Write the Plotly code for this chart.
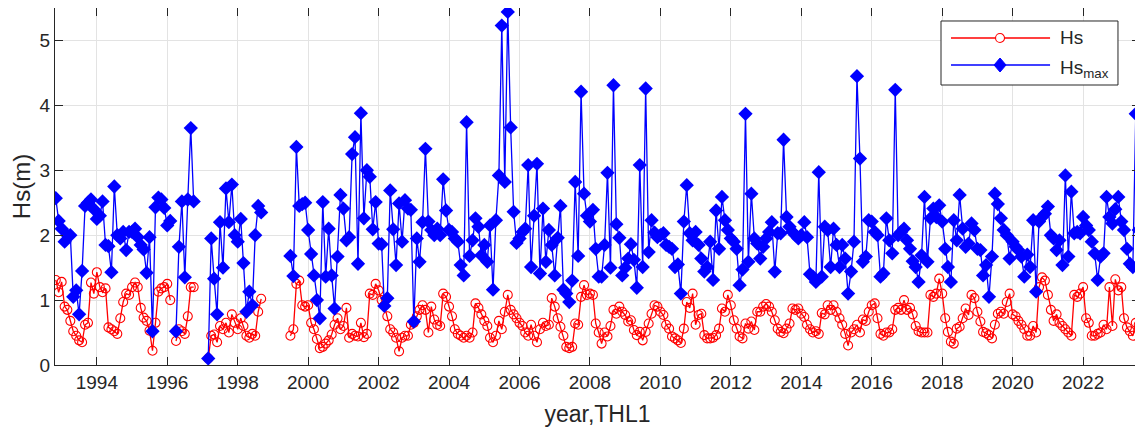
import pandas as pd
import plotly.graph_objects as go

# monthly values starting Nov 1992 (None = no data)
start_month = "1992-11-01"

hs = [
    1.31, 1.12, 1.28, 0.9, 0.85, 0.68, 0.52, 0.45, 0.38, 0.35,
    0.62, 0.65, 1.27, 1.1, 1.43, 1.2, 1.12, 1.18, 0.58, 0.55,
    0.52, 0.48, 0.72, 0.97, 1.1, 1.08, 1.2, 1.27, 1.2, 0.88,
    0.73, 0.68, 0.53, 0.22, 0.65, 1.13, 1.18, 1.2, 1.25, 1.0,
    None, 0.37, 0.55, 0.52, 0.48, 0.75, 1.2, 1.2, None, None,
    None, None, 0.1, 0.45, 0.47, 0.35, 0.6, 0.55, 0.65, 0.5,
    0.78, 0.65, 0.55, 0.72, 0.6, 0.45, 0.42, 0.48, 0.45, 0.82,
    1.02, None, None, None, None, None, None, None, None, None,
    0.45, 0.55, 1.25, 1.3, 0.92, 0.9, 0.92, 0.65, 0.55, 0.4,
    0.26, 0.28, 0.33, 0.38, 0.47, 0.62, 0.72, 0.55, 0.6, 0.88,
    0.42, 0.48, 0.45, 0.44, 0.65, 0.43, 0.48, 1.1, 1.08, 1.25,
    1.15, 1.0, 0.92, 0.75, 0.55, 0.5, 0.42, 0.21, 0.42, 0.45,
    0.45, 0.62, 0.65, 0.75, 0.85, 0.92, 0.85, 0.5, 0.9, 0.7,
    0.62, 0.6, 1.1, 1.05, 0.9, 0.75, 0.55, 0.48, 0.45, 0.42,
    0.45, 0.42, 0.5, 0.95, 0.88, 0.78, 0.68, 0.6, 0.42, 0.35,
    0.45, 0.68, 0.55, 0.82, 1.08, 0.85, 0.78, 0.72, 0.65, 0.6,
    0.5, 0.45, 0.62, 0.45, 0.35, 0.55, 0.65, 0.6, 0.62, 1.03,
    0.9, 0.72, 0.59, 0.45, 0.28, 0.26, 0.28, 0.64, 0.62, 1.05,
    1.23, 1.08, 1.10, 1.08, 0.64, 0.50, 0.33, 0.50, 0.44, 0.6,
    0.85, 0.79, 0.90, 0.82, 0.77, 0.67, 0.69, 0.54, 0.46, 0.51,
    0.38, 0.51, 0.64, 0.79, 0.92, 0.90, 0.82, 0.77, 0.62, 0.56,
    0.44, 0.41, 0.38, 0.34, 0.56, 0.97, 0.88, 1.1, 0.62, 0.77,
    0.79, 0.46, 0.41, 0.41, 0.42, 0.46, 0.56, 0.87, 0.82, 1.08,
    0.92, 0.69, 0.56, 0.44, 0.41, 0.64, 0.56, 0.67, 0.54, 0.82,
    0.82, 0.9, 0.94, 0.90, 0.82, 0.69, 0.56, 0.51, 0.49, 0.56,
    0.64, 0.87, 0.85, 0.87, 0.79, 0.74, 0.62, 0.55, 0.5, 0.52,
    0.48, 0.8, 0.78, 0.92, 0.85, 0.92, 0.82, 0.72, 0.62, 0.48,
    0.3, 0.5, 0.55, 0.62, 0.5, 0.7, 0.68, 0.82, 0.92, 0.95,
    0.72, 0.48, 0.45, 0.5, 0.5, 0.55, 0.85, 0.88, 0.85, 1.0,
    0.85, 0.88, 0.78, 0.6, 0.52, 0.5, 0.5, 0.5, 1.08, 1.05,
    1.10, 1.33, 1.10, 0.72, 0.51, 0.36, 0.33, 0.56, 0.59, 0.72,
    0.87, 0.77, 1.08, 1.03, 0.82, 0.67, 0.51, 0.49, 0.46, 0.41,
    0.62, 0.79, 0.82, 0.79, 0.97, 1.10, 0.78, 0.75, 0.68, 0.62,
    0.55, 0.45, 0.45, 0.6, 0.5, 1.2, 1.35, 1.3, 1.08, 0.85,
    0.68, 0.78, 0.65, 0.6, 0.55, 0.5, 0.45, 1.08, 1.05, 1.1,
    1.2, 0.72, 0.65, 0.45, 0.45, 0.48, 0.5, 0.62, 0.55, 1.2,
    0.6, 1.32, 1.15, 1.2, 0.72, 0.58, 0.52, 0.45, 0.65, 0.62,
]

hs_max = [
    2.57, 2.22, 2.1, 1.9, 2.0, 2.0, 1.05, 1.15, 0.78, 1.45,
    2.45, 2.5, 2.55, 2.4, 2.25, 2.3, 2.52, 1.85, 1.83, 1.43,
    2.75, 2.0, 1.95, 2.05, 1.77, 2.05, 2.05, 2.1, 1.97, 1.85,
    1.78, 1.42, 1.97, 0.52, 2.43, 2.58, 2.55, 2.42, 2.15, 2.22,
    None, 0.52, 1.82, 2.52, 1.35, 2.55, 3.65, 2.52, None, None,
    None, None, 0.1, 1.95, 1.33, 0.78, 2.2, 1.5, 2.72, 2.2,
    2.78, 2.0, 1.9, 2.25, 1.57, 0.82, 1.13, 0.92, 2.0, 2.45,
    2.35, None, None, None, None, None, None, None, None, None,
    1.68, 1.37, 3.36, 2.45, 2.48, 2.5, 2.08, 1.71, 1.38, 1.0,
    0.72, 2.51, 1.36, 2.10, 1.38, 0.87, 1.67, 2.62, 2.41, 1.92,
    1.97, 3.25, 3.51, 1.56, 3.88, 2.26, 3.0, 2.9, 2.09, 2.51,
    1.87, 1.86, 0.91, 1.03, 2.69, 2.09, 1.54, 2.49, 1.9, 2.54,
    2.41, 2.39, 0.67, 1.95, 1.59, 2.2, 3.33, 2.21, 2.08, 2.0,
    2.1, 2.0, 2.86, 2.38, 2.08, 2.05, 1.95, 1.9, 1.54, 1.38,
    3.74, 1.68, 1.92, 2.26, 2.13, 1.69, 1.85, 1.59, 2.15, 1.16,
    2.23, 2.92, 5.23, 2.82, 5.44, 3.66, 2.36, 1.88, 1.95, 2.05,
    2.1, 3.08, 1.51, 2.3, 3.1, 1.41, 2.41, 1.59, 2.08, 1.85,
    1.38, 1.96, 2.45, 1.16, 1.10, 0.97, 1.3, 2.82, 1.68, 4.21,
    2.64, 2.3, 2.21, 2.39, 1.79, 1.36, 1.36, 1.85, 2.96, 1.5,
    4.31, 2.17, 1.96, 1.38, 1.5, 1.64, 1.86, 1.62, 1.19, 3.08,
    1.51, 4.26, 1.74, 2.23, 2.04, 1.97, 2.0, 2.03, 1.85, 1.82,
    1.79, 1.51, 1.55, 1.10, 2.21, 2.77, 2.03, 1.92, 2.05, 1.85,
    1.64, 1.44, 1.51, 1.90, 1.31, 2.38, 1.79, 2.59, 2.23, 2.08,
    1.95, 1.90, 1.79, 1.23, 1.47, 3.87, 1.59, 2.64, 1.95, 1.87,
    1.64, 1.82, 1.95, 2.05, 2.2, 1.44, 2.03, 2.03, 3.47, 2.28,
    2.13, 2.05, 2.0, 1.95, 2.0, 2.2, 1.97, 1.4, 1.36, 1.28,
    2.97, 1.36, 2.13, 2.08, 1.51, 2.10, 1.85, 1.51, 1.85, 1.64,
    1.10, 1.44, 1.90, 4.45, 3.18, 1.59, 1.67, 2.23, 2.21, 2.05,
    2.0, 1.36, 1.41, 2.26, 1.92, 1.72, 4.24, 2.0, 2.05, 2.10,
    1.92, 1.79, 1.6, 1.51, 1.28, 1.69, 2.59, 1.59, 2.26, 2.41,
    2.28, 2.46, 2.21, 1.79, 1.51, 1.28, 2.23, 1.92, 2.62, 2.10,
    1.82, 1.87, 2.18, 2.08, 1.79, 1.77, 1.38, 1.54, 1.05, 1.67,
    2.64, 2.48, 2.26, 2.08, 2.0, 1.64, 1.9, 1.82, 1.77, 1.67,
    1.36, 1.7, 1.51, 2.23, 1.13, 2.21, 2.28, 2.33, 2.44, 2.0,
    1.95, 1.77, 1.92, 1.54, 2.92, 1.67, 2.67, 2.03, 2.05, 2.03,
    2.28, 2.15, 2.08, 1.9, 1.72, 1.31, 1.67, 1.72, 2.59, 2.28,
    2.18, 2.4, 2.59, 2.21, 2.08, 1.79, 1.56, 1.51, 3.87, 2.08,
]

months = pd.date_range(start_month, periods=len(hs), freq="MS")

font_family = "Arial, Liberation Sans, sans-serif"
axis_color = "#262626"
grid_color = "#e3e3e3"
red = "#ff0000"
blue = "#0000ff"

fig = go.Figure()

fig.add_trace(
    go.Scatter(
        x=months,
        y=hs,
        mode="lines+markers",
        name="Hs",
        line=dict(color=red, width=1.3),
        marker=dict(symbol="circle-open", size=9, color=red, line=dict(width=1.1)),
        connectgaps=False,
    )
)
fig.add_trace(
    go.Scatter(
        x=months,
        y=hs_max,
        mode="lines+markers",
        name="Hs<sub>max</sub>",
        line=dict(color=blue, width=1.3),
        marker=dict(symbol="diamond", size=11, color=blue),
        connectgaps=False,
    )
)

# the page body adds an 8px margin, so the figure is a bit smaller than the window
fig_w, fig_h = 1135, 424
mar = dict(l=47, r=3, t=0, b=67)
plot_w = fig_w - mar["l"] - mar["r"]
plot_h = fig_h - mar["t"] - mar["b"]

# MATLAB-style legend box (long sample lines), drawn in paper coords
box_x0, box_x1, box_y0, box_y1 = 0.8166, 0.9797, 0.7843, 0.9636
line_x0, line_x1, mark_x, text_x = 0.8258, 0.9171, 0.8710, 0.9244
row_y = [0.916, 0.8403]

shapes = [
    dict(type="rect", xref="paper", yref="paper", x0=box_x0, x1=box_x1,
         y0=box_y0, y1=box_y1, line=dict(color=axis_color, width=1), fillcolor="white"),
    dict(type="line", xref="paper", yref="paper", x0=line_x0, x1=line_x1,
         y0=row_y[0], y1=row_y[0], line=dict(color=red, width=1.3)),
    dict(type="line", xref="paper", yref="paper", x0=line_x0, x1=line_x1,
         y0=row_y[1], y1=row_y[1], line=dict(color=blue, width=1.3)),
]
cdx, cdy = 4.5 / plot_w, 4.5 / plot_h
shapes.append(
    dict(type="circle", xref="paper", yref="paper", x0=mark_x - cdx, x1=mark_x + cdx,
         y0=row_y[0] - cdy, y1=row_y[0] + cdy, line=dict(color=red, width=1.1),
         fillcolor="white")
)
ddx, ddy = 6 / plot_w, 7 / plot_h
yd = row_y[1]
shapes.append(
    dict(type="path", xref="paper", yref="paper",
         path=f"M {mark_x - ddx} {yd} L {mark_x} {yd + ddy} L {mark_x + ddx} {yd} L {mark_x} {yd - ddy} Z",
         line=dict(color=blue, width=1), fillcolor=blue)
)

annotations = [
    dict(text="Hs", xref="paper", yref="paper", x=text_x, y=row_y[0], xanchor="left",
         yanchor="middle", showarrow=False, font=dict(size=19, color=axis_color)),
    dict(text="Hs<sub>max</sub>", xref="paper", yref="paper", x=text_x, y=row_y[1] - 0.012,
         xanchor="left", yanchor="middle", showarrow=False, font=dict(size=19, color=axis_color)),
]

fig.update_layout(
    width=fig_w,
    height=fig_h,
    margin=mar,
    paper_bgcolor="white",
    plot_bgcolor="white",
    font=dict(family=font_family, color=axis_color, size=19),
    showlegend=False,
    shapes=shapes,
    annotations=annotations,
)

fig.update_xaxes(
    range=["1992-10-24", "2023-08-14"],
    tick0="1994-01-01",
    dtick="M24",
    tickformat="%Y",
    ticks="inside",
    ticklen=8,
    tickcolor=axis_color,
    showline=True,
    linecolor=axis_color,
    linewidth=1,
    mirror="ticks",
    showgrid=True,
    gridcolor=grid_color,
    zeroline=False,
    automargin=False,
    title=dict(text="year,THL1", font=dict(size=23), standoff=14),
)
fig.update_yaxes(
    range=[0, 5.5],
    dtick=1,
    ticks="inside",
    ticklen=8,
    tickcolor=axis_color,
    showline=True,
    linecolor=axis_color,
    linewidth=1,
    mirror="ticks",
    showgrid=True,
    gridcolor=grid_color,
    zeroline=False,
    automargin=False,
    title=dict(text="Hs(m)", font=dict(size=24), standoff=9),
)

fig.write_html("out.html")
